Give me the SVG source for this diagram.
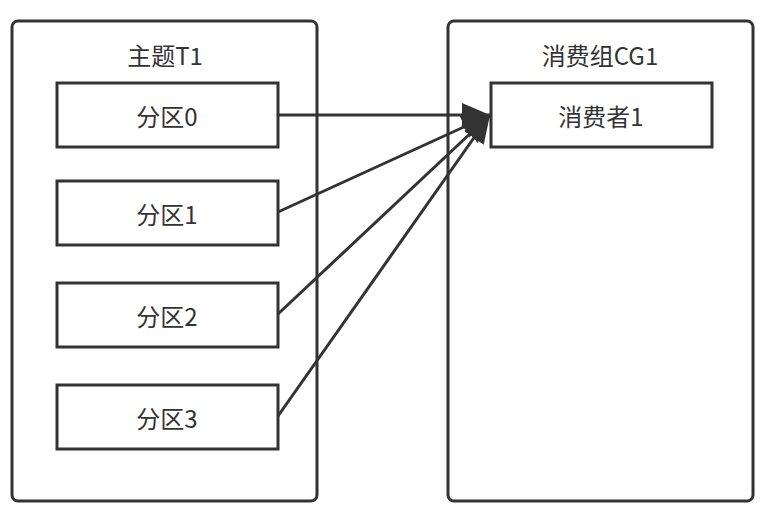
<svg xmlns="http://www.w3.org/2000/svg" width="765" height="513" viewBox="0 0 765 513">
<style>
.c{fill:#fff;stroke:#333;stroke-width:3}
.b{fill:#fff;stroke:#333;stroke-width:3}
.t{font-family:"Noto Sans CJK SC","Microsoft YaHei",sans-serif;font-size:24px;fill:#333;text-anchor:middle;dominant-baseline:central}
.e{fill:none;stroke:#333;stroke-width:3}
</style>
<defs>
<marker id="a" markerUnits="userSpaceOnUse" markerWidth="30" markerHeight="26" viewBox="0 0 30 26" refX="28" refY="13" orient="auto">
<path d="M0,1 L28,13 L0,25 Z" fill="#333"/>
</marker>
</defs>
<g id="topic">
<rect class="c" x="12" y="21" width="305" height="480" rx="6"/>
<text class="t" x="165" y="54">主题T1</text>
</g>
<g id="group">
<rect class="c" x="448" y="21" width="305" height="480" rx="6"/>
<text class="t" x="600" y="54">消费组CG1</text>
</g>
<g id="p0"><rect class="b" x="57" y="83" width="221" height="64"/><text class="t" x="167" y="115">分区0</text></g>
<g id="p1"><rect class="b" x="57" y="181" width="221" height="64"/><text class="t" x="167" y="213">分区1</text></g>
<g id="p2"><rect class="b" x="57" y="283" width="221" height="64"/><text class="t" x="167" y="315">分区2</text></g>
<g id="p3"><rect class="b" x="57" y="385" width="221" height="64"/><text class="t" x="167" y="417">分区3</text></g>
<g id="c1"><rect class="b" x="491" y="83" width="221" height="64"/><text class="t" x="601" y="115">消费者1</text></g>
<g id="edges">
<path class="e" d="M278,115 L490,115" marker-end="url(#a)"/>
<path class="e" d="M278,212 L490,115" marker-end="url(#a)"/>
<path class="e" d="M278,314 L490,115" marker-end="url(#a)"/>
<path class="e" d="M278,416 L490,115" marker-end="url(#a)"/>
</g>
</svg>
